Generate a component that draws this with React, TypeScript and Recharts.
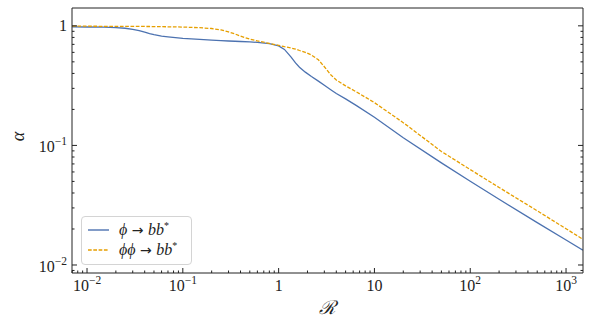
import { Legend, Line, LineChart, XAxis, YAxis } from "recharts";

// R values (x) shared by both curves
const R = [
  0.007, 0.01, 0.015, 0.02, 0.025, 0.03, 0.035, 0.04, 0.045, 0.05, 0.06, 0.07,
  0.1, 0.15, 0.2, 0.25, 0.3, 0.35, 0.4, 0.5, 0.6, 0.8, 1, 1.15, 1.35, 1.5,
  1.65, 1.9, 2.2, 2.6, 3, 3.5, 4, 5, 6.5, 10, 20, 50, 100, 200, 500, 1000,
  1500,
];
const ALPHA_PHI = [
  0.98, 0.978, 0.975, 0.968, 0.955, 0.935, 0.912, 0.885, 0.862, 0.845, 0.822,
  0.81, 0.785, 0.77, 0.76, 0.752, 0.747, 0.743, 0.74, 0.734, 0.727, 0.71,
  0.68, 0.635, 0.548, 0.49, 0.45, 0.41, 0.377, 0.345, 0.318, 0.292, 0.272,
  0.245, 0.215, 0.172, 0.116, 0.0715, 0.0502, 0.0355, 0.0226, 0.0162, 0.0133,
];
const ALPHA_PHIPHI = [
  0.995, 0.993, 0.991, 0.99, 0.99, 0.99, 0.989, 0.988, 0.987, 0.986, 0.984,
  0.982, 0.977, 0.965, 0.95, 0.925, 0.89, 0.855, 0.82, 0.775, 0.748, 0.712,
  0.688, 0.67, 0.652, 0.64, 0.622, 0.6, 0.57, 0.52, 0.455, 0.39, 0.352, 0.315,
  0.28, 0.228, 0.155, 0.089, 0.0628, 0.0445, 0.0284, 0.0201, 0.0164,
];

const X_MAJOR = [0.01, 0.1, 1, 10, 100, 1000];
const X_LABELS = [["10", "−2"], ["10", "−1"], ["1", ""], ["10", ""], ["10", "2"], ["10", "3"]];
const Y_MAJOR = [0.01, 0.1, 1];
const Y_LABELS = [["10", "−2"], ["10", "−1"], ["1", ""]];

const X_DOMAIN: [number, number] = [0.00697, 1503];
const Y_DOMAIN: [number, number] = [0.00857, 1.41];

const BLUE = "#4C72B0";
const ORANGE = "#E69F00";
const INK = "#222";
const FONT = "'Liberation Serif', 'DejaVu Serif', serif";

const data = R.map((r, i) => ({ r, phi: ALPHA_PHI[i], phiphi: ALPHA_PHIPHI[i] }));

// all decade ticks (1..9 x 10^n) inside a domain
function allTicks([lo, hi]: [number, number]) {
  const out: number[] = [];
  for (let d = Math.floor(Math.log10(lo)); d <= Math.ceil(Math.log10(hi)); d++) {
    for (let k = 1; k <= 9; k++) {
      const v = Number((k * Math.pow(10, d)).toPrecision(6));
      if (v >= lo && v <= hi) out.push(v);
    }
  }
  return out;
}

const majorIndex = (list: number[], v: number) =>
  list.findIndex((m) => Math.abs(m - v) / m < 1e-6);

function Label10({ x, y, pair, anchor }: { x: number; y: number; pair: string[]; anchor: string }) {
  return (
    <text x={x} y={y} textAnchor={anchor} fontFamily={FONT} fontSize={16} fill={INK}>
      {pair[0]}
      {pair[1] && (
        <tspan dy={-7} fontSize={11.5}>
          {pair[1]}
        </tspan>
      )}
    </text>
  );
}

// tick props: with tickSize/tickMargin 0, (x, y) sits on the axis line
function BottomTick(props: any) {
  const { x, y, payload } = props;
  const i = majorIndex(X_MAJOR, payload.value);
  const len = i >= 0 ? 5 : 2.5;
  return (
    <g>
      <line x1={x} x2={x} y1={y} y2={y - len} stroke={INK} />
      {i >= 0 && <Label10 x={x} y={y + 18} pair={X_LABELS[i]} anchor="middle" />}
    </g>
  );
}

function TopTick(props: any) {
  const { x, y, payload } = props;
  const len = majorIndex(X_MAJOR, payload.value) >= 0 ? 5 : 2.5;
  return <line x1={x} x2={x} y1={y} y2={y + len} stroke={INK} />;
}

function LeftTick(props: any) {
  const { x, y, payload } = props;
  const i = majorIndex(Y_MAJOR, payload.value);
  const len = i >= 0 ? 5 : 2.5;
  return (
    <g>
      <line x1={x} x2={x + len} y1={y} y2={y} stroke={INK} />
      {i >= 0 && (
        <Label10 x={x - 5} y={y + (Y_LABELS[i][1] ? 7 : 5)} pair={Y_LABELS[i]} anchor="end" />
      )}
    </g>
  );
}

function RightTick(props: any) {
  const { x, y, payload } = props;
  const len = majorIndex(Y_MAJOR, payload.value) >= 0 ? 5 : 2.5;
  return <line x1={x} x2={x - len} y1={y} y2={y} stroke={INK} />;
}

function LegendBox() {
  const row = (dash: string | undefined, color: string, label: React.ReactNode) => (
    <div style={{ display: "flex", alignItems: "center", height: 20 }}>
      <svg width={30} height={20} style={{ marginLeft: 6 }}>
        <line x1={0} x2={21} y1={10} y2={10} stroke={color} strokeWidth={1.4} strokeDasharray={dash} />
      </svg>
      <span style={{ fontFamily: FONT, fontSize: 16, color: INK, marginLeft: 1, whiteSpace: "nowrap" }}>{label}</span>
    </div>
  );
  const arrow = <span style={{ fontFamily: "'DejaVu Sans', sans-serif", fontSize: 14 }}> → </span>;
  const sup = <span style={{ fontSize: 10, position: "relative", top: -6 }}>*</span>;
  return (
    <div
      style={{
        width: 111,
        height: 49,
        boxSizing: "border-box",
        border: "1px solid #d4d4d4",
        borderRadius: 4,
        background: "rgba(255,255,255,0.85)",
        paddingTop: 3,
      }}
    >
      {row(undefined, BLUE, <><i>ϕ</i>{arrow}<i>bb</i>{sup}</>)}
      {row("3.7 1.6", ORANGE, <><i>ϕϕ</i>{arrow}<i>bb</i>{sup}</>)}
    </div>
  );
}

export default function App() {
  const xTicks = allTicks(X_DOMAIN);
  const yTicks = allTicks(Y_DOMAIN);
  const common = {
    type: "number" as const,
    scale: "log" as const,
    allowDataOverflow: true,
    interval: 0 as const,
    tickSize: 0,
    tickMargin: 0,
    tickLine: false,
    axisLine: { stroke: INK },
  };
  return (
    <div style={{ position: "absolute", left: 0, top: 0, background: "#fff" }}>
      <LineChart width={591} height={327} data={data} margin={{ top: 7, right: 7, bottom: 53, left: 71 }}>
        <XAxis
          {...common}
          xAxisId="b"
          dataKey="r"
          domain={X_DOMAIN}
          ticks={xTicks}
          height={1}
          tick={BottomTick}
          label={(p: any) => {
            const vb = p.viewBox;
            return (
              <text x={vb.x + vb.width / 2} y={vb.y + 41} textAnchor="middle" fontFamily="'DejaVu Serif', serif" fontStyle="italic" fontSize={19} fill={INK}>
                ℛ
              </text>
            );
          }}
        />
        <XAxis {...common} xAxisId="t" orientation="top" domain={X_DOMAIN} ticks={xTicks} height={1} tick={TopTick} />
        <YAxis
          {...common}
          yAxisId="l"
          domain={Y_DOMAIN}
          ticks={yTicks}
          width={1}
          tick={LeftTick}
          label={(p: any) => {
            const vb = p.viewBox;
            const cy = vb.y + vb.height / 2 - 4;
            return (
              <text x={18} y={cy} transform={`rotate(-90 18 ${cy})`} textAnchor="middle" dominantBaseline="central" fontFamily={FONT} fontStyle="italic" fontSize={18} fill={INK}>
                α
              </text>
            );
          }}
        />
        <YAxis {...common} yAxisId="r" orientation="right" domain={Y_DOMAIN} ticks={yTicks} width={1} tick={RightTick} />
        <Line
          xAxisId="b"
          yAxisId="l"
          dataKey="phi"
          name="ϕ → bb*"
          type="linear"
          stroke={BLUE}
          strokeWidth={1.3}
          dot={false}
          isAnimationActive={false}
        />
        <Line
          xAxisId="b"
          yAxisId="l"
          dataKey="phiphi"
          name="ϕϕ → bb*"
          type="linear"
          stroke={ORANGE}
          strokeWidth={1.3}
          strokeDasharray="3.7 1.6"
          dot={false}
          isAnimationActive={false}
        />
        <Legend
          layout="vertical"
          align="center"
          verticalAlign="middle"
          content={() => <LegendBox />}
          wrapperStyle={{ left: 81, top: 216, width: 111, height: 49 }}
        />
      </LineChart>
    </div>
  );
}
